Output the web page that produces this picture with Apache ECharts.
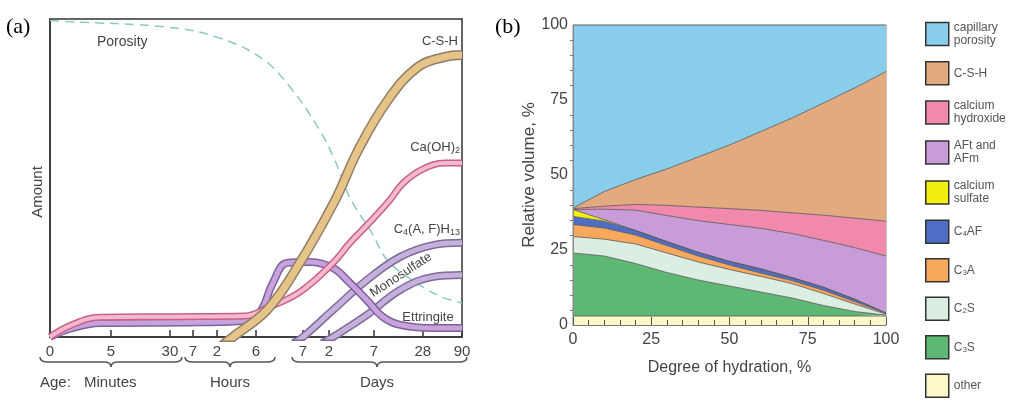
<!DOCTYPE html>
<html>
<head>
<meta charset="utf-8">
<script src="https://cdn.jsdelivr.net/npm/echarts@6/dist/echarts.min.js"></script>
<style>
html, body { margin: 0; background: #fff; }
#main { width: 1023px; height: 411px; }
</style>
</head>
<body>
<div id="main"></div>
<script>
// ---- panel (a): age axis is not linear, ticks put on a 0-100 scale
var ageTicks = [0, 14.8, 29.1, 34.7, 40.5, 50, 61.4, 67.7, 78.6, 90.5, 100];
var ageLabels = ['0', '5', '30', '7', '2', '6', '7', '2', '7', '28', '90'];

// curves, [age position, amount]
var porosity = [[0, 99.5], [4, 99.2], [28, 97.5], [40, 94.5], [51, 88], [58, 79], [65, 66], [69, 56],
    [72, 46], [74, 41], [78, 33], [82, 24], [89, 17], [95, 12.6], [100, 10.7]];
var csh = [[40.4, -4], [44.4, 0], [52.7, 8.5], [60, 22], [69.2, 43], [74.8, 58.8], [82, 74.5],
    [89.3, 84.9], [95.9, 88.1], [100, 88.7]];
var caoh2 = [[0, 0], [4.9, 3.6], [12.1, 6.2], [30, 6.4], [47.3, 6.6], [52.7, 9.1], [60.7, 14.2],
    [68.7, 23.3], [72.8, 29.6], [77.7, 36.2], [82.5, 43.1], [85.7, 48.4], [90.5, 52.8], [95.9, 54.7], [100, 54.7]];
var ettringite = [[0, 0], [4.9, 2.6], [12.1, 4.4], [36.4, 4.6], [47.3, 5.1], [51, 7.9], [54.1, 17],
    [57.5, 23.3], [63.1, 23.6], [68.7, 21.7], [72.8, 17], [76.9, 11.6], [80.8, 6.3], [85, 3.8], [93, 2.8], [100, 2.8]];
var c4afh13 = [[59, -2], [61.4, 0], [68.7, 8.5], [76.9, 17.9], [85, 25.2], [93, 28.9], [100, 29.6]];
var monosulfate = [[66, -2], [68.7, 0], [76.9, 6.9], [85, 14.8], [93, 18.9], [100, 19.5]];

// ---- panel (b): volume of each phase (layer thickness, %) vs degree of hydration
var hydration = ['0', '10', '20', '30', '40', '50', '60', '70', '80', '90', '100'];
var otherVol = [3, 3, 3, 3, 3, 3, 3, 3, 3, 3, 3];
var c3sVol = [21, 20, 17.5, 14.5, 12, 10, 8, 6, 3.5, 1.5, 0.3];
var c2sVol = [5.5, 5.6, 6.5, 6.5, 6, 5.5, 5.2, 4.8, 4, 2.5, 0.3];
var c3aVol = [4, 3.7, 3, 2.5, 2, 1.5, 1.1, 1, 1.1, 0.8, 0.2];
var c4afVol = [2.7, 2.3, 1.5, 1.3, 1.2, 1.2, 1.4, 1, 1, 0.8, 0.2];
var sulfateVol = [2.3, 0.5, 0, 0, 0, 0, 0, 0, 0, 0, 0];
var aftVol = [0, 3.5, 6.8, 8.7, 10.6, 12.3, 13.5, 14.7, 15.6, 17.2, 19];
var chVol = [0.3, 1, 1.9, 3.4, 4.5, 5.3, 6, 6.9, 8.4, 9.8, 11.6];
var cshVol = [0.2, 4.9, 8.3, 12.1, 16.7, 21.2, 26.3, 31.6, 37.4, 43.4, 49.9];
var poreVol = [61, 55.5, 51.5, 48, 44, 40, 35.5, 31, 26, 21, 15.5];

var FONT = '"Liberation Sans", Arial, sans-serif';
var merge = echarts.util.merge;
var chart = echarts.init(document.getElementById('main'));

// a curve drawn as a band: dark edge underneath, light fill on top
function band(data, fill, edge, w) {
    function one(color, width) {
        return {
            type: 'line', xAxisIndex: 0, yAxisIndex: 0, data: data,
            smooth: 0.4, symbol: 'none', silent: true,
            lineStyle: { color: color, width: width }
        };
    }
    return [one(edge, w + 3), one(fill, w)];
}

// stacked on the hidden category axis (xAxis 2), which lines up with the 0-100 axis
function layer(name, vals, color) {
    return {
        name: name, type: 'line', xAxisIndex: 2, yAxisIndex: 1, stack: 'vol',
        data: vals, symbol: 'none', silent: true,
        lineStyle: { color: '#555', width: 0.8 },
        itemStyle: { color: color },
        areaStyle: { color: color, opacity: 1 }
    };
}

// curly brace under the age axis, tip pointing down
function brace(x1, x2, xm, y) {
    var d = 5, st = { fill: null, stroke: '#555', lineWidth: 1.5 };
    function q(ax, ay, cx, cy, bx, by) {
        return { type: 'bezierCurve', silent: true, shape: { x1: ax, y1: ay, cpx1: cx, cpy1: cy, x2: bx, y2: by }, style: st };
    }
    function ln(ax, ay, bx, by) {
        return { type: 'line', silent: true, shape: { x1: ax, y1: ay, x2: bx, y2: by }, style: st };
    }
    return [
        q(x1, y, x1, y + d, x1 + 8, y + d),
        ln(x1 + 8, y + d, xm - 7, y + d),
        q(xm - 7, y + d, xm, y + d, xm, y + 2 * d),
        q(xm, y + 2 * d, xm, y + d, xm + 7, y + d),
        ln(xm + 7, y + d, x2 - 8, y + d),
        q(x2 - 8, y + d, x2, y + d, x2, y)
    ];
}

function txt(x, y, text, align, extra) {
    var el = {
        type: 'text', x: x, y: y, silent: true,
        style: {
            text: text, fontSize: 13, fontFamily: FONT, fill: '#444', lineHeight: 16,
            align: align || 'left', verticalAlign: 'middle',
            rich: { s: { fontSize: 9, fontFamily: FONT, fill: '#444', lineHeight: 8, verticalAlign: 'bottom' } }
        }
    };
    return merge(el, extra || {}, true);
}

var series = [];
series.push({
    type: 'line', xAxisIndex: 0, yAxisIndex: 0, data: porosity, smooth: 0.4,
    symbol: 'none', silent: true, lineStyle: { color: '#8cc9c0', width: 1.5, type: [9, 6] }
});
series = series.concat(band(monosulfate, '#c6b0dc', '#7d6c99', 5));
series = series.concat(band(c4afh13, '#c6b0dc', '#7d6c99', 5));
series = series.concat(band(ettringite, '#c8a2dc', '#7d6299', 5));
series = series.concat(band(caoh2, '#f6b8cc', '#c5618c', 4));
series = series.concat(band(csh, '#e6c386', '#8e7e68', 7));

series.push(layer('other', otherVol, '#fcf8c8'));
series.push(layer('C3S', c3sVol, '#5db874'));
series.push(layer('C2S', c2sVol, '#dbeee1'));
series.push(layer('C3A', c3aVol, '#f7a85c'));
series.push(layer('C4AF', c4afVol, '#4e6ec6'));
series.push(layer('calcium\nsulfate', sulfateVol, '#f2ef10'));
series.push(layer('AFt and\nAFm', aftVol, '#c89bd9'));
series.push(layer('calcium\nhydroxide', chVol, '#f189ac'));
series.push(layer('C-S-H', cshVol, '#e2aa7e'));
series.push(layer('capillary\nporosity', poreVol, '#88cdea'));

var graphics = [
    { type: 'text', x: 6, y: 27, silent: true,
      style: { text: '(a)', fontSize: 22, fontFamily: '"Liberation Serif", serif', fill: '#000', verticalAlign: 'middle' } },
    { type: 'text', x: 495, y: 27, silent: true,
      style: { text: '(b)', fontSize: 22, fontFamily: '"Liberation Serif", serif', fill: '#000', verticalAlign: 'middle' } },
    txt(38, 192, 'Amount', 'center', { rotation: Math.PI / 2, style: { fontSize: 15 } }),
    txt(97, 42, 'Porosity', 'left', { style: { fontSize: 14 } }),
    txt(458, 41, 'C-S-H', 'right'),
    txt(460, 147, 'Ca(OH){s|2}', 'right'),
    txt(460, 229, 'C{s|4}(A, F)H{s|13}', 'right'),
    txt(401, 275, 'Monosulfate', 'center', { rotation: 33 * Math.PI / 180 }),
    txt(428, 317, 'Ettringite', 'center'),
    txt(40, 383, 'Age:', 'left', { style: { fontSize: 15 } }),
    txt(84, 383, 'Minutes', 'left', { style: { fontSize: 15 } }),
    txt(230, 383, 'Hours', 'center', { style: { fontSize: 15 } }),
    txt(377, 383, 'Days', 'center', { style: { fontSize: 15 } })
];
graphics = graphics.concat(brace(40, 182, 111, 357), brace(185, 275, 230, 357), brace(292, 467, 377, 357));

var option = {
    animation: false,
    backgroundColor: '#fff',
    textStyle: { fontFamily: FONT },
    grid: [
        { left: 50, top: 19, width: 412, height: 318, show: true, borderColor: '#333', borderWidth: 1.5 },
        { left: 573, top: 25, width: 313, height: 300, show: true, borderColor: '#888', borderWidth: 1 }
    ],
    xAxis: [
        {
            gridIndex: 0, type: 'value', min: 0, max: 100,
            axisLine: { lineStyle: { color: '#333', width: 1.5 } },
            axisTick: { customValues: ageTicks, inside: true, length: 7, lineStyle: { color: '#333', width: 1.5 } },
            axisLabel: {
                customValues: ageTicks, margin: 7, fontSize: 15, color: '#444',
                formatter: function (v) {
                    var i = ageTicks.indexOf(v);
                    return i >= 0 ? ageLabels[i] : '';
                }
            },
            splitLine: { show: false }
        },
        {
            gridIndex: 1, type: 'value', min: 0, max: 100, interval: 25, z: 5,
            name: 'Degree of hydration, %', nameLocation: 'middle', nameGap: 35,
            nameTextStyle: { fontSize: 16, color: '#444' },
            axisLine: { lineStyle: { color: '#777', width: 1 } },
            axisTick: { inside: true, length: 8, lineStyle: { color: '#555' } },
            minorTick: { show: true, splitNumber: 5, length: 5, lineStyle: { color: '#555' } },
            axisLabel: { margin: 7, fontSize: 16, color: '#444' },
            splitLine: { show: false }
        },
        {
            gridIndex: 1, type: 'category', data: hydration, boundaryGap: false, show: false
        }
    ],
    yAxis: [
        {
            gridIndex: 0, type: 'value', min: 0, max: 100,
            axisLine: { show: true, lineStyle: { color: '#333', width: 1.5 } },
            axisTick: { show: false }, axisLabel: { show: false }, splitLine: { show: false }
        },
        {
            gridIndex: 1, type: 'value', min: 0, max: 100, interval: 25, z: 5,
            name: 'Relative volume, %', nameLocation: 'middle', nameGap: 28,
            nameTextStyle: { fontSize: 17, color: '#444' },
            axisLine: { show: true, lineStyle: { color: '#888', width: 1 } },
            axisTick: { show: false },
            minorTick: { show: true, splitNumber: 5, length: 3, lineStyle: { color: '#777' } },
            axisLabel: { margin: 5, fontSize: 16, color: '#444' },
            splitLine: { show: false }
        }
    ],
    legend: {
        left: 925, top: 21, height: 395, padding: 0, orient: 'vertical', selectedMode: false,
        icon: 'rect', itemWidth: 23, itemHeight: 23, itemGap: 14,
        itemStyle: { borderColor: '#333', borderWidth: 1.5 },
        data: ['capillary\nporosity', 'C-S-H', 'calcium\nhydroxide', 'AFt and\nAFm', 'calcium\nsulfate',
            'C4AF', 'C3A', 'C2S', 'C3S', 'other'],
        formatter: function (name) {
            return /^C\d/.test(name) ? name.replace(/(\d)/, '{s|$1}') : name;
        },
        textStyle: {
            fontSize: 12, color: '#555', lineHeight: 13,
            rich: { s: { fontSize: 8, color: '#555', lineHeight: 6, verticalAlign: 'bottom' } }
        }
    },
    graphic: graphics,
    series: series
};

chart.setOption(option);
</script>
</body>
</html>
